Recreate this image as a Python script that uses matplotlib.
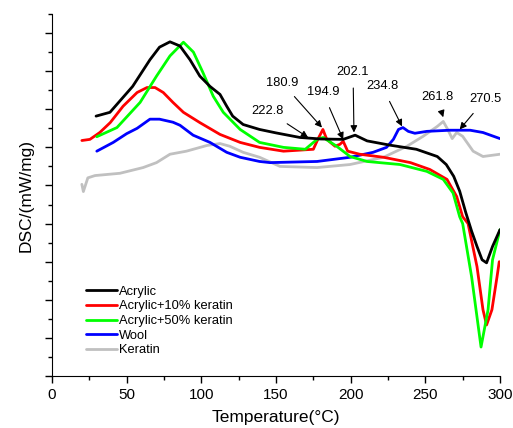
import numpy as np
import matplotlib
matplotlib.use('Agg')
import matplotlib.pyplot as plt
from matplotlib.ticker import MultipleLocator

plt.rcParams['font.family'] = ['Liberation Sans', 'DejaVu Sans']

# Acrylic
t_acr = [29.5, 38.8, 54, 65.6, 72, 79, 85.7, 92.4, 99, 105.8, 112.5, 117, 121, 128, 139,
         150, 166, 180, 195, 203, 211, 226, 244, 258, 264, 269, 273, 277, 281, 284.6, 288, 291, 295, 300]
y_acr = [6.82, 6.92, 7.6, 8.3, 8.63, 8.77, 8.66, 8.3, 7.87, 7.6, 7.39, 7.08, 6.82, 6.6, 6.47,
         6.38, 6.26, 6.22, 6.21, 6.32, 6.17, 6.06, 5.95, 5.76, 5.55, 5.24, 4.85, 4.3, 3.8, 3.4, 3.05, 2.97, 3.4, 3.84]
# Acrylic+10% keratin
t_k10 = [20, 25.4, 32, 39, 47.6, 57, 63.6, 69, 74.5, 81, 88, 99, 112.5, 126, 139, 155, 175, 178,
         181.4, 184, 189.5, 192.8, 195, 198, 206, 222, 240, 253, 264.5, 271, 275, 278.6, 284.6,
         288.6, 291, 294.6, 298, 299.5]
y_k10 = [6.18, 6.21, 6.39, 6.65, 7.08, 7.44, 7.57, 7.57, 7.44, 7.18, 6.92, 6.65, 6.34, 6.13, 6.0,
         5.9, 5.95, 6.21, 6.47, 6.21, 6.03, 6.08, 6.16, 5.9, 5.82, 5.74, 5.6, 5.42, 5.16, 4.71, 4.18,
         4.0, 2.87, 1.74, 1.34, 1.74, 2.6, 3.0]
# Acrylic+50% keratin
t_k50 = [30, 43.5, 59, 70, 79, 88, 94.7, 101, 108, 114.7, 126, 139, 155, 169.6, 177.5, 181.6,
         190.6, 199.6, 211, 233, 251, 262, 268.6, 273, 275, 281, 287.3, 292, 295, 300]
y_k50 = [6.28, 6.52, 7.18, 7.87, 8.4, 8.76, 8.5, 7.97, 7.34, 6.92, 6.47, 6.13, 6.0, 5.95, 6.21, 6.26,
         6.03, 5.76, 5.63, 5.55, 5.37, 5.16, 4.8, 4.18, 4.0, 2.6, 0.76, 1.74, 3.05, 3.84]
# Wool
t_wool = [30, 41, 50, 57, 65.6, 72, 81, 85.7, 94.5, 105.8, 117, 126, 139, 146, 177.5, 199.6, 215,
          224, 228.6, 232, 235, 238.6, 243, 251, 266.5, 280, 288.6, 300]
y_wool = [5.9, 6.13, 6.36, 6.5, 6.74, 6.74, 6.66, 6.58, 6.32, 6.13, 5.87, 5.74, 5.63, 5.6, 5.63,
          5.74, 5.87, 6.0, 6.21, 6.47, 6.52, 6.42, 6.37, 6.42, 6.45, 6.45, 6.39, 6.23]
# Keratin
t_ker = [20, 21, 24, 28.8, 45.5, 61, 70, 79, 90, 103.8, 112.5, 119, 128, 139, 152.7, 177.5, 199.6,
         222, 237.7, 248.5, 258, 262, 265, 268, 271, 275, 282, 288.6, 300]
y_ker = [5.03, 4.84, 5.2, 5.26, 5.32, 5.47, 5.6, 5.82, 5.9, 6.05, 6.1, 6.03, 5.87, 5.74, 5.5, 5.47,
         5.55, 5.74, 6.03, 6.29, 6.55, 6.68, 6.47, 6.23, 6.39, 6.29, 5.9, 5.76, 5.82]

labels = ['Acrylic', 'Acrylic+10% keratin', 'Acrylic+50% keratin', 'Wool', 'Keratin']
colors = ['black', '#ff0000', '#00ff00', '#0000ff', '#c0c0c0']

# annotations: text, tip (T, y), text position (T, y)
ann_text = ['222.8', '180.9', '194.9', '202.1', '234.8', '261.8', '270.5']
ann_tip = [(171.5, 6.26), (180.8, 6.52), (195, 6.21), (202.2, 6.39), (234.4, 6.55), (262, 6.79), (273, 6.47)]
ann_pos = [(144.6, 6.95), (154, 7.7), (181.4, 7.44), (201.6, 7.97), (221, 7.6), (257.8, 7.31), (290, 7.26)]

fig = plt.figure(figsize=(5.13, 4.28), dpi=100)
ax = fig.add_axes([52/513, 52/428, 448/513, 362/428])

series = [(t_acr, y_acr), (t_k10, y_k10), (t_k50, y_k50), (t_wool, y_wool), (t_ker, y_ker)]
# draw order: keratin, wool, 10%, 50%, acrylic on top
order = [4, 3, 1, 2, 0]
handles = {}
for i in order:
    t, y = series[i]
    h, = ax.plot(t, y, color=colors[i], lw=2.0, label=labels[i],
                 solid_joinstyle='round', solid_capstyle='round')
    handles[i] = h

for txt, tip, pos in zip(ann_text, ann_tip, ann_pos):
    ax.annotate(txt, xy=tip, xytext=pos, ha='center', va='center', fontsize=9.3,
                arrowprops=dict(arrowstyle='-|>', color='black', lw=0.8, mutation_scale=10,
                                shrinkA=5, shrinkB=0))

ax.legend([handles[i] for i in range(5)], labels, loc='lower left', bbox_to_anchor=(0.065, 0.04),
          frameon=False, fontsize=9.3, handlelength=2.4, handletextpad=0.1, labelspacing=0.2,
          borderaxespad=0)

ax.set_xlim(0, 300)
ax.set_ylim(0, 9.5)
ax.xaxis.set_major_locator(MultipleLocator(50))
ax.xaxis.set_minor_locator(MultipleLocator(25))
ax.yaxis.set_major_locator(MultipleLocator(1))
ax.yaxis.set_minor_locator(MultipleLocator(0.5))
ax.tick_params(axis='y', which='both', labelleft=False)
ax.tick_params(which='major', length=5, width=1)
ax.tick_params(which='minor', length=3, width=1)
ax.tick_params(axis='x', labelsize=11)
for s in ['top', 'right']:
    ax.spines[s].set_visible(False)
ax.set_xlabel('Temperature(°C)', fontsize=12.5, labelpad=6)
ax.set_ylabel('DSC/(mW/mg)', fontsize=12.5, labelpad=8)

fig.savefig('out.png', dpi=100)
